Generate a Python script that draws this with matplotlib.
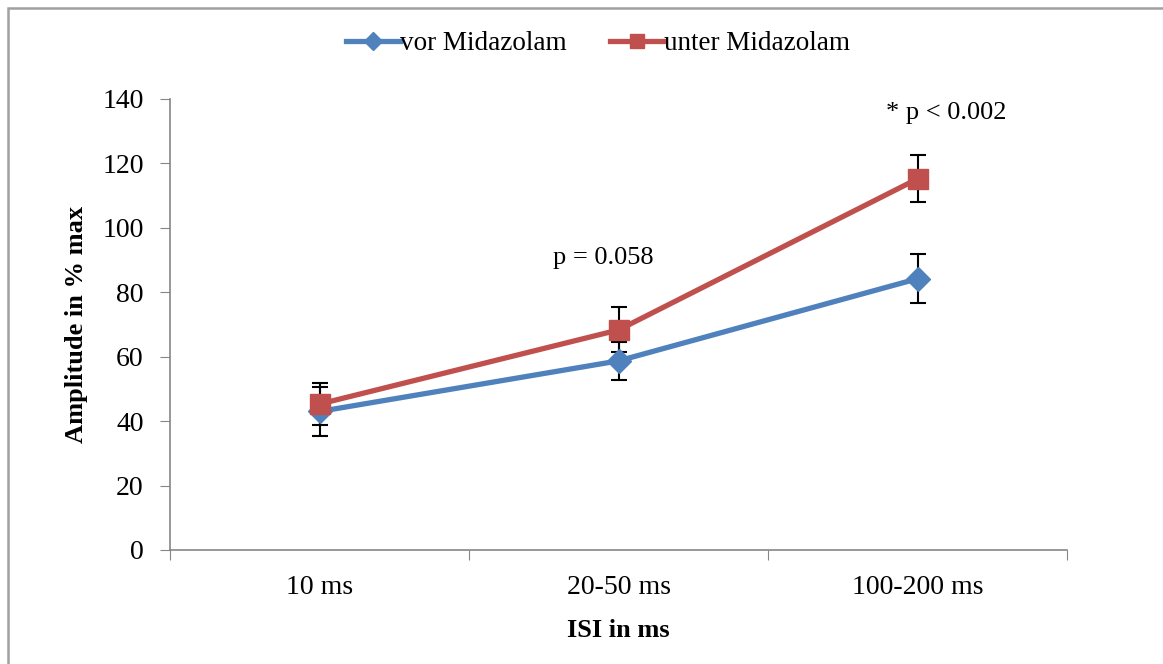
import matplotlib.pyplot as plt
from matplotlib.patches import Rectangle

categories = ['10 ms', '20-50 ms', '100-200 ms']
vor = [43.0, 58.7, 84.2]
vor_err = [7.5, 6.0, 7.6]
unter = [45.3, 68.3, 115.2]
unter_err = [6.5, 7.0, 7.3]
p_labels = ['p = 0.058', '* p < 0.002']

plt.rcParams['font.family'] = ['Liberation Serif', 'DejaVu Serif']

blue = '#4F81BD'
red = '#C0504D'

fig = plt.figure(figsize=(11.63, 6.64), dpi=100)
ax = fig.add_axes([0.1462, 0.1717, 0.9175 - 0.1462, 0.851 - 0.1717])

# grey frame around the chart (runs off the right and bottom edge)
fig.patches.append(Rectangle((0.0065, -0.05), 1.5, 1.038, transform=fig.transFigure,
                             fill=False, edgecolor='#a0a0a0', linewidth=1.8))

x = [i + 0.5 for i in range(len(categories))]

ax.errorbar(x, vor, yerr=vor_err, fmt='none', ecolor='black', elinewidth=1.5,
            capsize=6, capthick=1.5, zorder=1)
ax.errorbar(x, unter, yerr=unter_err, fmt='none', ecolor='black', elinewidth=1.5,
            capsize=6, capthick=1.5, zorder=1)
ax.plot(x, vor, color=blue, lw=3.8, marker='D', markersize=12, label='vor Midazolam', zorder=3)
ax.plot(x, unter, color=red, lw=3.8, marker='s', markersize=14, label='unter Midazolam', zorder=4)

ax.text(1.448, 90.7, p_labels[0], ha='center', va='center', fontsize=19)
ax.text(2.595, 135.7, p_labels[1], ha='center', va='center', fontsize=19)

ax.set_xlim(0, 3)
ax.set_ylim(0, 140)
ax.set_yticks(range(0, 141, 20))
ax.set_xticks([0, 1, 2, 3])
ax.set_xticklabels([])
ax.set_xticks(x, minor=True)
ax.set_xticklabels(categories, minor=True)
ax.tick_params(axis='x', which='minor', length=0, pad=18, labelsize=20)
ax.tick_params(axis='x', which='major', length=7, direction='out', color='#868686')
ax.tick_params(axis='y', length=7, direction='out', color='#868686', labelsize=20, pad=12)

for s in ['top', 'right']:
    ax.spines[s].set_visible(False)
for s in ['left', 'bottom']:
    ax.spines[s].set_color('#868686')
    ax.spines[s].set_linewidth(1.2)

ax.set_xlabel('ISI in ms', fontsize=19, fontweight='bold', labelpad=14)
ax.set_ylabel('Amplitude in % max', fontsize=19, fontweight='bold', labelpad=10)

fig.legend(loc='upper center', bbox_to_anchor=(0.514, 0.99), ncol=2, frameon=False,
           fontsize=19.5, handlelength=2.0, handletextpad=0.0, columnspacing=1.6,
           markerscale=0.75)

fig.savefig('out.png', dpi=100)
